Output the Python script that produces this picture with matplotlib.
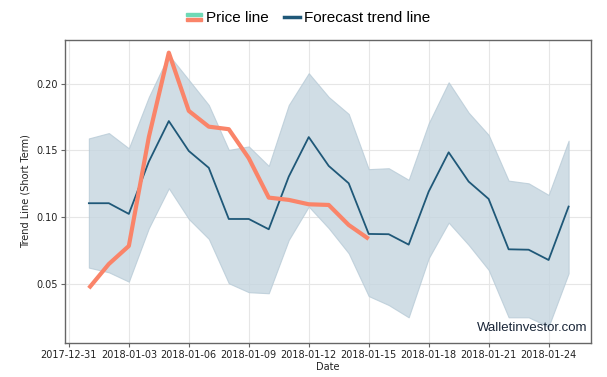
import matplotlib
matplotlib.use("Agg")
import matplotlib.pyplot as plt
import matplotlib.dates as mdates
from matplotlib.legend_handler import HandlerBase
from matplotlib.patches import Rectangle
from matplotlib.lines import Line2D
import pandas as pd

# data
dates = pd.date_range("2018-01-01", "2018-01-25", freq="D")
trend = [0.1105, 0.1105, 0.1025, 0.1416, 0.172, 0.1496, 0.137, 0.0987, 0.0987,
         0.091, 0.1304, 0.160, 0.1384, 0.1254, 0.0875, 0.0873, 0.0795, 0.1192,
         0.1486, 0.1267, 0.1137, 0.076, 0.0757, 0.068, 0.108]
upper = [0.159, 0.163, 0.1516, 0.190, 0.2215, 0.2028, 0.184, 0.1504, 0.153,
         0.1384, 0.184, 0.2078, 0.190, 0.1773, 0.136, 0.1367, 0.128, 0.1703,
         0.201, 0.1783, 0.1616, 0.1274, 0.1254, 0.1167, 0.1573]
lower = [0.0623, 0.0588, 0.0518, 0.0918, 0.1217, 0.0987, 0.0838, 0.0506, 0.0439,
         0.0431, 0.083, 0.108, 0.0918, 0.073, 0.041, 0.0343, 0.0251, 0.0693,
         0.096, 0.0793, 0.0606, 0.0251, 0.0251, 0.0181, 0.058]
price = [0.0469, 0.065, 0.0785, 0.160, 0.2232, 0.1796, 0.1678, 0.1659, 0.1442,
         0.1147, 0.113, 0.1097, 0.1092, 0.0942, 0.0838]
price_dates = dates[:len(price)]
tick_dates = pd.date_range("2017-12-31", "2018-01-24", freq="3D")


class TwoColorHandler(HandlerBase):
    # legend key split in two stripes: teal on top, salmon below
    def create_artists(self, legend, orig, xd, yd, w, h, fontsize, trans):
        top = Rectangle((xd, yd + h * 0.55), w, h * 0.3, color="#6fd9b6",
                        transform=trans)
        bot = Rectangle((xd, yd + h * 0.1), w, h * 0.3, color="#fa8469",
                        transform=trans)
        return [top, bot]


fig = plt.figure(figsize=(6.07, 3.77), dpi=100)
ax = fig.add_axes([0.1066, 0.091, 0.8665, 0.803])

ax.fill_between(dates, lower, upper, color="#c5d5df", alpha=0.8, linewidth=0.8,
                edgecolor="#b8cbd7")
ax.plot(dates, trend, color="#1f5878", linewidth=1.3)
price_line, = ax.plot(price_dates, price, color="#fa8469", linewidth=3,
                      solid_capstyle="butt")

ax.set_xlim(pd.Timestamp("2017-12-30 19:00"), pd.Timestamp("2018-01-26 02:30"))
ax.set_ylim(0.0061, 0.2327)
ax.set_yticks([0.05, 0.10, 0.15, 0.20])
ax.set_xticks(tick_dates)
ax.xaxis.set_major_formatter(mdates.DateFormatter("%Y-%m-%d"))

ax.grid(True, color="#e6e6e6", linewidth=0.8)
ax.set_axisbelow(True)
for s in ax.spines.values():
    s.set_color("#666666")
    s.set_linewidth(1)
ax.tick_params(labelsize=7, length=3, color="#666666", labelcolor="#222222",
               pad=2)
ax.set_xlabel("Date", fontsize=7, color="#222222", labelpad=2)
ax.set_ylabel("Trend Line (Short Term)", fontsize=7, color="#222222")

ax.text(0.9935, 0.03, "Walletinvestor.com", transform=ax.transAxes, ha="right",
        va="bottom", fontsize=9.5, color="#1a2638", family="Liberation Sans")

trend_key = Line2D([], [], color="#1f5878", linewidth=2.5)
fig.legend([price_line, trend_key], ["Price line", "Forecast trend line"],
           handler_map={price_line: TwoColorHandler()},
           loc="center", bbox_to_anchor=(0.508, 0.952), ncol=2, frameon=False,
           prop={"family": "Liberation Sans", "size": 11},
           handlelength=1.0, handletextpad=0.3, columnspacing=1.0)

fig.savefig("out.png", dpi=100)
